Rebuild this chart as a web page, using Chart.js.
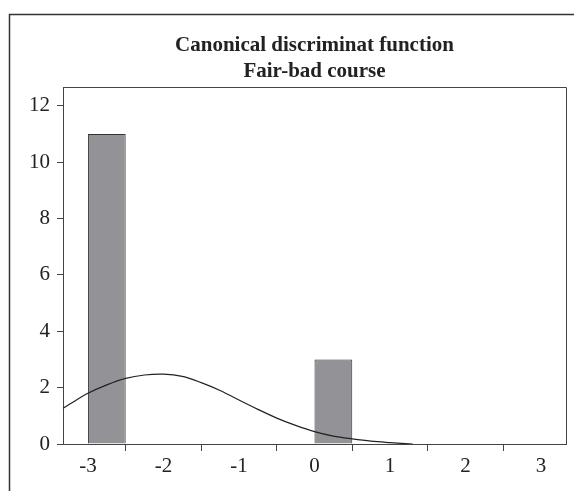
<!DOCTYPE html>
<html>
<head>
<meta charset="utf-8">
<script src="https://cdn.jsdelivr.net/npm/chart.js@4"></script>
<style>
  html, body { margin: 0; padding: 0; background: #fff; }
  #wrap { width: 574px; height: 491px; position: relative; }
</style>
</head>
<body>
<div id="wrap"><canvas id="chart"></canvas></div>
<script>
// histogram bins (width 0.5), centre and count
const binCenters = [-2.75, -2.25, -1.75, -1.25, -0.75, -0.25, 0.25, 0.75];
const binCounts = [11, 0, 0, 0, 0, 0, 3, 0];

// fitted curve
const curveX = [-3.33, -3.25, -3, -2.75, -2.5, -2.25, -2, -1.75, -1.5, -1.25, -1, -0.75, -0.5, -0.25, 0, 0.25, 0.5, 0.75, 1, 1.3];
const curveY = [1.27, 1.40, 1.80, 2.10, 2.33, 2.45, 2.48, 2.40, 2.18, 1.90, 1.56, 1.23, 0.92, 0.66, 0.44, 0.28, 0.18, 0.10, 0.05, 0.0];

const xTicks = [-3, -2, -1, 0, 1, 2, 3];
const yTicks = [0, 2, 4, 6, 8, 10, 12];

const titleLines = ['Canonical discriminat function', 'Fair-bad course'];

const serif = '"Liberation Serif", "Times New Roman", serif';

// plot box top/right edges + outer frame
const framePlugin = {
    id: 'frame',
    afterDraw(chart) {
        const ctx = chart.ctx;
        const a = chart.chartArea;
        ctx.save();
        ctx.strokeStyle = '#444';
        ctx.lineWidth = 1;
        ctx.beginPath();
        ctx.moveTo(Math.round(a.left) + 0.5, Math.round(a.top) + 0.5);
        ctx.lineTo(Math.round(a.right) + 0.5, Math.round(a.top) + 0.5);
        ctx.lineTo(Math.round(a.right) + 0.5, Math.round(a.bottom) + 0.5);
        ctx.stroke();
        ctx.strokeStyle = '#333';
        ctx.lineWidth = 1.5;
        ctx.beginPath();
        ctx.moveTo(9.5, chart.height);
        ctx.lineTo(9.5, 14.5);
        ctx.lineTo(chart.width, 14.5);
        ctx.stroke();
        ctx.restore();
    }
};

new Chart(document.getElementById('chart'), {
    type: 'bar',
    data: {
        datasets: [{
            type: 'bar',
            data: binCenters.map((c, i) => ({ x: c, y: binCounts[i] })),
            backgroundColor: '#939397',
            borderColor: '#333',
            borderWidth: 1,
            inflateAmount: 0,
            barPercentage: 1,
            categoryPercentage: 1,
            order: 2
        }, {
            type: 'line',
            data: curveX.map((x, i) => ({ x: x, y: curveY[i] })),
            borderColor: '#222',
            borderWidth: 1.2,
            pointRadius: 0,
            fill: false,
            tension: 0.35,
            order: 1
        }]
    },
    options: {
        responsive: true,
        maintainAspectRatio: false,
        animation: false,
        layout: { padding: { left: 10, right: 8, top: 0, bottom: 0 } },
        plugins: {
            legend: { display: false },
            tooltip: { enabled: false },
            title: {
                display: true,
                text: titleLines,
                fullSize: false,
                color: '#222',
                font: { family: serif, size: 21, weight: 'bold', lineHeight: 1.24 },
                padding: { top: 33, bottom: 2 }
            }
        },
        scales: {
            x: {
                type: 'linear',
                min: -3.33,
                max: 3.33,
                offset: false,
                afterBuildTicks: s => { s.ticks = xTicks.map(v => ({ value: v })); },
                afterFit: s => { s.height = 47; },
                grid: { drawOnChartArea: false, tickLength: 7, color: '#444' },
                border: { display: true, color: '#444' },
                ticks: { color: '#222', padding: 3, maxRotation: 0, font: { family: serif, size: 21 } }
            },
            y: {
                min: 0,
                max: 12.67,
                afterBuildTicks: s => { s.ticks = yTicks.map(v => ({ value: v })); },
                afterFit: s => { s.width = 53; },
                grid: { drawOnChartArea: false, tickLength: 6, color: '#444' },
                border: { display: true, color: '#444' },
                ticks: { color: '#222', padding: 7, font: { family: serif, size: 21 } }
            }
        }
    },
    plugins: [framePlugin]
});
</script>
</body>
</html>
